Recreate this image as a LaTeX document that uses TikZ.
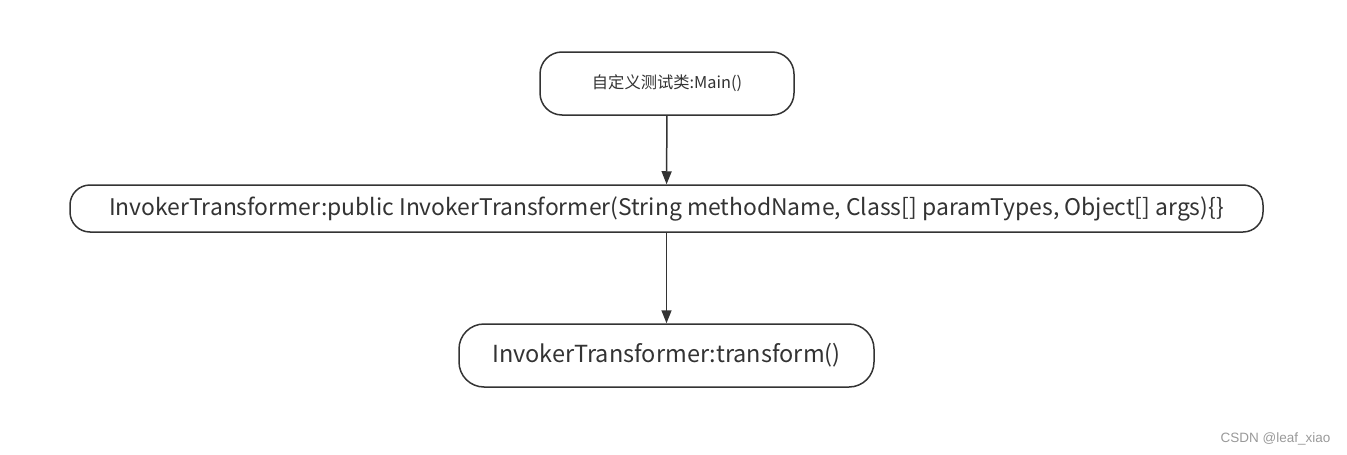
\documentclass[tikz,border=0pt]{standalone}
\usepackage{fontspec}
\setmainfont{Noto Sans CJK SC}
\newfontfamily\markfont{Liberation Sans}
\usepackage{tikz}
\usetikzlibrary{arrows.meta,positioning}
\definecolor{linegray}{HTML}{333333}
\tikzset{
 >={Triangle[length=13pt,width=10pt]},
 stadium/.style={draw=linegray,line width=1.5pt,rounded corners=22pt,fill=white,
   inner sep=0pt,text=black!80},
 link/.style={->,draw=linegray,line width=1.5pt,color=linegray}
}

\begin{document}
\begin{tikzpicture}[x=1pt,y=-1pt]
\useasboundingbox (0,0) rectangle (1347,455);

\path (667,83.5) node[name=main,stadium,minimum width=254pt,minimum height=63pt,
  font=\fontsize{16.3pt}{19pt}\selectfont] {自定义测试类:Main()};
\path (666.5,208.5) node[name=ctor,stadium,rounded corners=20pt,minimum width=1193pt,minimum height=47pt,
  font=\fontsize{22.9pt}{27pt}\selectfont] {InvokerTransformer:public InvokerTransformer(String methodName, Class[] paramTypes, Object[] args)\{\}};
\path (666.5,355.5) node[name=trans,stadium,rounded corners=25pt,minimum width=415pt,minimum height=63pt,
  font=\fontsize{23.5pt}{27pt}\selectfont] {InvokerTransformer:transform()};

\path (1275.5,439) node[name=mark,text=black!40,font=\markfont\fontsize{13.5pt}{16pt}\selectfont] {CSDN @leaf\_xiao};

\path[link] (main) edge (ctor);
\path[link] (ctor) edge (trans);

\end{tikzpicture}
\end{document}
